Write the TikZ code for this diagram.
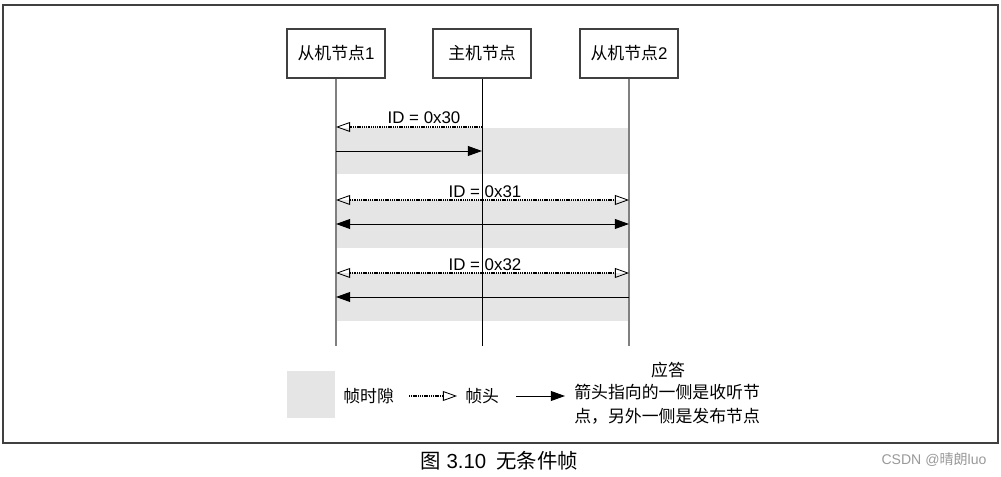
\documentclass[tikz,border=0pt]{standalone}
\usepackage{fontspec}
\setmainfont{Liberation Sans}
\newfontfamily\cjk{Noto Sans CJK SC}
\usetikzlibrary{arrows.meta, positioning}

\tikzset{
  nodebox/.style={draw=black!75, line width=0.8pt, minimum width=2.45cm, minimum height=1.225cm, font=\fontsize{12}{14}\selectfont},
  sideline/.style={line width=1.1pt, black!50},
  mainline/.style={line width=0.7pt, black},
  band/.style={fill=black!10},
  hdr/.style={dash pattern=on 0.8pt off 0.5pt, line width=0.8pt, -{Triangle[open, length=10pt, width=7pt, line width=0.6pt]}},
  hdrboth/.style={dash pattern=on 0.8pt off 0.5pt, line width=0.8pt, {Triangle[open, length=10pt, width=7pt, line width=0.6pt]}-{Triangle[open, length=10pt, width=7pt, line width=0.6pt]}},
  resp/.style={line width=0.7pt, -{Triangle[length=10pt, width=7pt]}},
  respboth/.style={line width=0.7pt, {Triangle[length=10pt, width=7pt]}-{Triangle[length=10pt, width=7pt]}},
  idlbl/.style={font=\fontsize{12}{14}\selectfont, inner sep=0pt, anchor=base},
  txt/.style={font=\cjk\fontsize{12}{17}\selectfont, inner sep=0pt},
}

\begin{document}
\begin{tikzpicture}[x=0.025cm, y=-0.025cm]
  \useasboundingbox (0,0) rectangle (1001,477);
  \draw[line width=1pt, black!75] (3,5) rectangle (998,443);

  % frame slots
  \fill[band] (336,128) rectangle (629,174);
  \fill[band] (336,200) rectangle (629,248);
  \fill[band] (336,273) rectangle (629,321);

  \node[nodebox] (s1) at (336,53.5) {{\cjk 从机节点}1};
  \node[nodebox] (m) at (482,53.5) {{\cjk 主机节点}};
  \node[nodebox] (s2) at (629,53.5) {{\cjk 从机节点}2};

  \coordinate (s1end) at (336,346);
  \coordinate (mend) at (482,346);
  \coordinate (s2end) at (629,346);
  \draw[sideline] (s1) -- (s1end);
  \draw[mainline] (m) -- (mend);
  \draw[sideline] (s2) -- (s2end);

  % ID = 0x30
  \draw[hdr] (m |- 0,127) -- (s1 |- 0,127);
  \node[idlbl] (id30) at (424,124) {ID = 0x30};
  \draw[resp] (s1 |- 0,151) -- (m |- 0,151);

  % ID = 0x31
  \draw[hdrboth] (s1 |- 0,200) -- (s2 |- 0,200);
  \node[idlbl] (id31) at (485,198) {ID = 0x31};
  \draw[respboth] (s1 |- 0,224) -- (s2 |- 0,224);

  % ID = 0x32
  \draw[hdrboth] (s1 |- 0,273) -- (s2 |- 0,273);
  \node[idlbl] (id32) at (485,271) {ID = 0x32};
  \draw[resp] (s2 |- 0,297) -- (s1 |- 0,297);

  % legend
  \node[band, minimum width=1.2cm, minimum height=1.175cm, inner sep=0pt] (slot) at (311,394.5) {};
  \node[txt, anchor=west] (slottxt) at (343,396) {帧时隙};
  \coordinate (ha) at (409,396);
  \coordinate (hb) at (457,396);
  \draw[hdr] (ha) -- (hb);
  \node[txt, anchor=west] (hdrtxt) at (465,396) {帧头};
  \coordinate (ra) at (516,396);
  \coordinate (rb) at (565,396);
  \draw[resp] (ra) -- (rb);
  \node[txt] (resptitle) at (668,370) {应答};
  \node[txt, anchor=west, align=left] (resptxt) at (574,404) {箭头指向的一侧是收听节\\点，另外一侧是发布节点};

  % caption
  \node[font=\fontsize{14.5}{16}\selectfont, inner sep=0pt] (cap) at (499,461) {{\cjk 图}\hspace{0.3em}3.10\hspace{0.5em}{\cjk 无条件帧}};
  \node[text=black!40, font=\fontsize{10}{12}\selectfont, inner sep=0pt] (mark) at (934,460) {CSDN @{\cjk 晴朗}luo};
\end{tikzpicture}
\end{document}
